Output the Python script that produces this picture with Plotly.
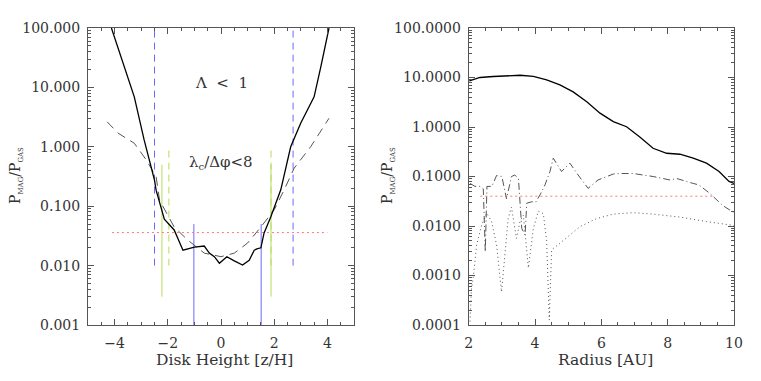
import plotly.graph_objects as go

# ---------------- Left panel data ----------------
z_solid = [-4.12, -3.64, -3.26, -2.89, -2.50, -2.44, -2.25, -2.13, -1.76, -1.43, -1.00, -0.63,
           -0.44, -0.25, -0.06, 0.22, 0.50, 0.81, 1.06, 1.25, 1.35, 1.50, 1.62, 1.87, 2.25,
           2.62, 3.00, 3.25, 3.50, 3.75, 4.06]
logp_solid = [2.00, 1.34, 0.84, 0.115, -0.56, -0.73, -1.06, -1.22, -1.40, -1.74, -1.69, -1.67,
              -1.79, -1.85, -1.96, -1.85, -1.92, -1.99, -1.91, -1.74, -1.72, -1.70, -1.45, -1.18, -0.72,
              0.00, 0.40, 0.62, 0.84, 1.34, 2.00]

z_dash = [-4.28, -3.87, -3.26, -2.81, -2.44, -2.31, -1.76, -1.25, -0.63, 0.00, 0.50, 1.00,
          1.50, 2.00, 2.37, 2.75, 3.37, 4.06]
logp_dash = [0.42, 0.23, 0.06, -0.22, -0.50, -0.90, -1.35, -1.57, -1.79, -1.85, -1.79, -1.62,
             -1.35, -1.06, -0.73, -0.36, 0.00, 0.48]

red_left_x = [-4.1, 4.0]
red_left_y = [0.036, 0.036]

blue_dash_z = [-2.5, 2.71]
blue_dash_range = [0.01, 100]
green_dash_z = [-1.96, 1.88]
green_dash_range = [0.01, 1.0]
green_solid_z = [-2.22, 1.88]
green_solid_range = [0.003, 0.5]
blue_solid_z = [-1.02, 1.51]
blue_solid_range = [0.001, 0.05]

# ---------------- Right panel data ----------------
r_solid = [2.02, 2.34, 2.74, 3.15, 3.55, 3.95, 4.35, 4.75, 5.15, 5.56, 5.96, 6.36, 6.76, 7.16,
           7.56, 7.97, 8.37, 8.77, 9.17, 9.55, 9.85, 10.0]
logp_rsolid = [0.93, 1.00, 1.02, 1.04, 1.045, 1.024, 0.95, 0.85, 0.71, 0.51, 0.28, 0.11, 0.006,
               -0.20, -0.43, -0.53, -0.55, -0.63, -0.73, -0.90, -1.10, -1.14]

r_dashdot = [2.04, 2.19, 2.34, 2.44, 2.50, 2.55, 2.70, 2.84, 3.00, 3.14, 3.29, 3.39, 3.50, 3.60,
             3.70, 3.75, 3.90, 4.02, 4.15, 4.30, 4.45, 4.55, 4.80, 5.05, 5.30, 5.60, 5.90, 6.36,
             6.57, 6.96, 7.26, 7.56, 8.07, 8.27, 8.77, 8.94, 9.27, 9.42, 9.65, 9.95, 10.0]
logp_dashdot = [-1.14, -1.20, -1.20, -1.25, -2.52, -1.20, -1.20, -0.98, -1.00, -1.45, -1.00, -0.97,
                -1.04, -2.05, -2.18, -1.54, -1.51, -1.52, -1.37, -1.17, -0.90, -0.63, -0.90, -0.73,
                -0.97, -1.24, -1.07, -0.95, -0.94, -0.94, -0.97, -1.00, -1.07, -1.04, -1.14, -1.17,
                -1.34, -1.44, -1.58, -1.71, -1.72]

r_dot = [2.04, 2.08, 2.14, 2.24, 2.39, 2.54, 2.69, 2.84, 2.99, 3.09, 3.19, 3.29, 3.44, 3.55,
         3.65, 3.80, 3.95, 4.10, 4.25, 4.35, 4.43, 4.50, 4.75, 5.36, 5.86, 6.36, 6.96, 7.56,
         8.37, 9.17, 9.95, 10.0]
logp_dot = [-3.93, -3.30, -3.02, -2.38, -1.98, -1.74, -1.91, -2.38, -3.33, -2.59, -1.85, -1.62,
            -2.25, -1.90, -1.78, -2.85, -2.05, -1.70, -1.75, -2.30, -3.90, -2.48, -2.35, -2.01,
            -1.85, -1.76, -1.73, -1.76, -1.82, -1.91, -1.98, -1.99]

red_right_x = [2.35, 9.4]
red_right_y = [0.04, 0.04]

left_ticks = [0.001, 0.01, 0.1, 1, 10, 100]
left_ticktext = ["0.001", "0.010", "0.100", "1.000", "10.000", "100.000"]
right_ticks = [0.0001, 0.001, 0.01, 0.1, 1, 10, 100]
right_ticktext = ["0.0001", "0.0010", "0.0100", "0.1000", "1.0000", "10.0000", "100.0000"]

FONT = "DejaVu Serif"
TXT = "#333333"
BLUE = "#6a6aff"
GREEN = "#b8dc5a"
RED = "#ff7878"

fig = go.Figure()


def vlines(xs, yr, color, dash, xa, ya):
    for xv in xs:
        fig.add_trace(go.Scatter(x=[xv, xv], y=yr, mode="lines", xaxis=xa, yaxis=ya,
                                 line=dict(color=color, width=1, dash=dash),
                                 showlegend=False, hoverinfo="skip"))


# Left panel
vlines(blue_dash_z, blue_dash_range, BLUE, "7px,5px", "x", "y")
vlines(green_dash_z, green_dash_range, GREEN, "7px,5px", "x", "y")
vlines(green_solid_z, green_solid_range, GREEN, "solid", "x", "y")
vlines(blue_solid_z, blue_solid_range, BLUE, "solid", "x", "y")
fig.add_trace(go.Scatter(x=red_left_x, y=red_left_y, mode="lines",
                         line=dict(color=RED, width=1, dash="2px,3px"), showlegend=False))
fig.add_trace(go.Scatter(x=z_dash, y=[10 ** v for v in logp_dash], mode="lines",
                         line=dict(color="#555555", width=1, dash="9px,6px"), showlegend=False))
fig.add_trace(go.Scatter(x=z_solid, y=[10 ** v for v in logp_solid], mode="lines",
                         line=dict(color="#000000", width=1.3), showlegend=False))

# Right panel
fig.add_trace(go.Scatter(x=red_right_x, y=red_right_y, mode="lines", xaxis="x2", yaxis="y2",
                         line=dict(color=RED, width=1, dash="2px,3px"), showlegend=False))
fig.add_trace(go.Scatter(x=r_dot, y=[10 ** v for v in logp_dot], mode="lines", xaxis="x2", yaxis="y2",
                         line=dict(color="#555555", width=1, dash="1px,3px"), showlegend=False))
fig.add_trace(go.Scatter(x=r_dashdot, y=[10 ** v for v in logp_dashdot], mode="lines", xaxis="x2", yaxis="y2",
                         line=dict(color="#555555", width=1, dash="7px,3px,1px,3px"), showlegend=False))
fig.add_trace(go.Scatter(x=r_solid, y=[10 ** v for v in logp_rsolid], mode="lines", xaxis="x2", yaxis="y2",
                         line=dict(color="#000000", width=1.3), showlegend=False))

# The page places the figure 8px in from the top-left corner, so the figure is
# 8px smaller and all target window positions are shifted by 8px.
OFF = 8
W, H = 761 - OFF, 381 - OFF


def fx(p):
    return (p - OFF) / W


def fy(p):
    return 1 - (p - OFF) / H


yd = [fy(325), fy(28)]

axis_common = dict(showline=True, linecolor="#555555", linewidth=1, mirror="ticks",
                   ticks="inside", ticklen=6, tickcolor="#555555", showgrid=False, zeroline=False,
                   automargin=False,
                   tickfont=dict(family=FONT, size=14, color=TXT))
minor_lin = dict(dtick=0.5, ticks="inside", ticklen=3, tickcolor="#555555", showgrid=False)
minor_log = dict(dtick="D1", ticks="inside", ticklen=3, tickcolor="#555555", showgrid=False)

fig.update_layout(
    width=W, height=H, margin=dict(l=0, r=0, t=0, b=0, autoexpand=False),
    paper_bgcolor="white", plot_bgcolor="white", showlegend=False,
    xaxis=dict(domain=[fx(88), fx(354)], range=[-5, 5], tickvals=[-4, -2, 0, 2, 4],
               ticktext=["\u22124", "\u22122", "0", "2", "4"], ticklabelstandoff=5,
               minor=minor_lin, anchor="y", **axis_common),
    yaxis=dict(domain=yd, type="log", range=[-3, 2], tickvals=left_ticks, ticktext=left_ticktext,
               ticklabelstandoff=4, minor=minor_log, anchor="x", **axis_common),
    xaxis2=dict(domain=[fx(468.7), fx(734)], range=[2, 10], tickvals=[2, 4, 6, 8, 10],
                ticklabelstandoff=5, minor=minor_lin, anchor="y2", **axis_common),
    yaxis2=dict(domain=yd, type="log", range=[-4, 2], tickvals=right_ticks, ticktext=right_ticktext,
                ticklabelstandoff=4, minor=minor_log, anchor="x2", **axis_common),
)

ann_font = dict(family=FONT, size=15, color=TXT)
title_font = dict(family=FONT, size=15.5, color=TXT)
fig.add_annotation(x=0, y=1.07, xref="x", yref="y", text="\u039b  &lt;  1", showarrow=False,
                   font=ann_font, xanchor="center", yanchor="middle")
fig.add_annotation(x=0, y=-0.26, xref="x", yref="y",
                   text="\u03bb<sub><span style=\"font-size:10px\">c</span></sub>/\u0394\u03c6&lt;8",
                   showarrow=False, font=ann_font, xanchor="center", yanchor="middle")

ytitle = ("P<sub><span style=\"font-size:7px\">MAG</span></sub>/"
          "P<sub><span style=\"font-size:7px\">GAS</span></sub>")
ytitle_font = dict(family=FONT, size=14, color=TXT)
fig.add_annotation(x=fx(16), y=fy(176), xref="paper", yref="paper", text=ytitle, textangle=-90,
                   showarrow=False, font=ytitle_font, xanchor="center", yanchor="middle",
                   borderpad=0)
fig.add_annotation(x=fx(388), y=fy(176), xref="paper", yref="paper", text=ytitle, textangle=-90,
                   showarrow=False, font=ytitle_font, xanchor="center", yanchor="middle",
                   borderpad=0)
fig.add_annotation(x=fx(224), y=fy(360), xref="paper", yref="paper", text="Disk Height [z/H]",
                   showarrow=False, font=title_font, xanchor="center", yanchor="middle")
fig.add_annotation(x=fx(605), y=fy(360), xref="paper", yref="paper", text="Radius [AU]",
                   showarrow=False, font=title_font, xanchor="center", yanchor="middle")

fig.write_html("out.html")
